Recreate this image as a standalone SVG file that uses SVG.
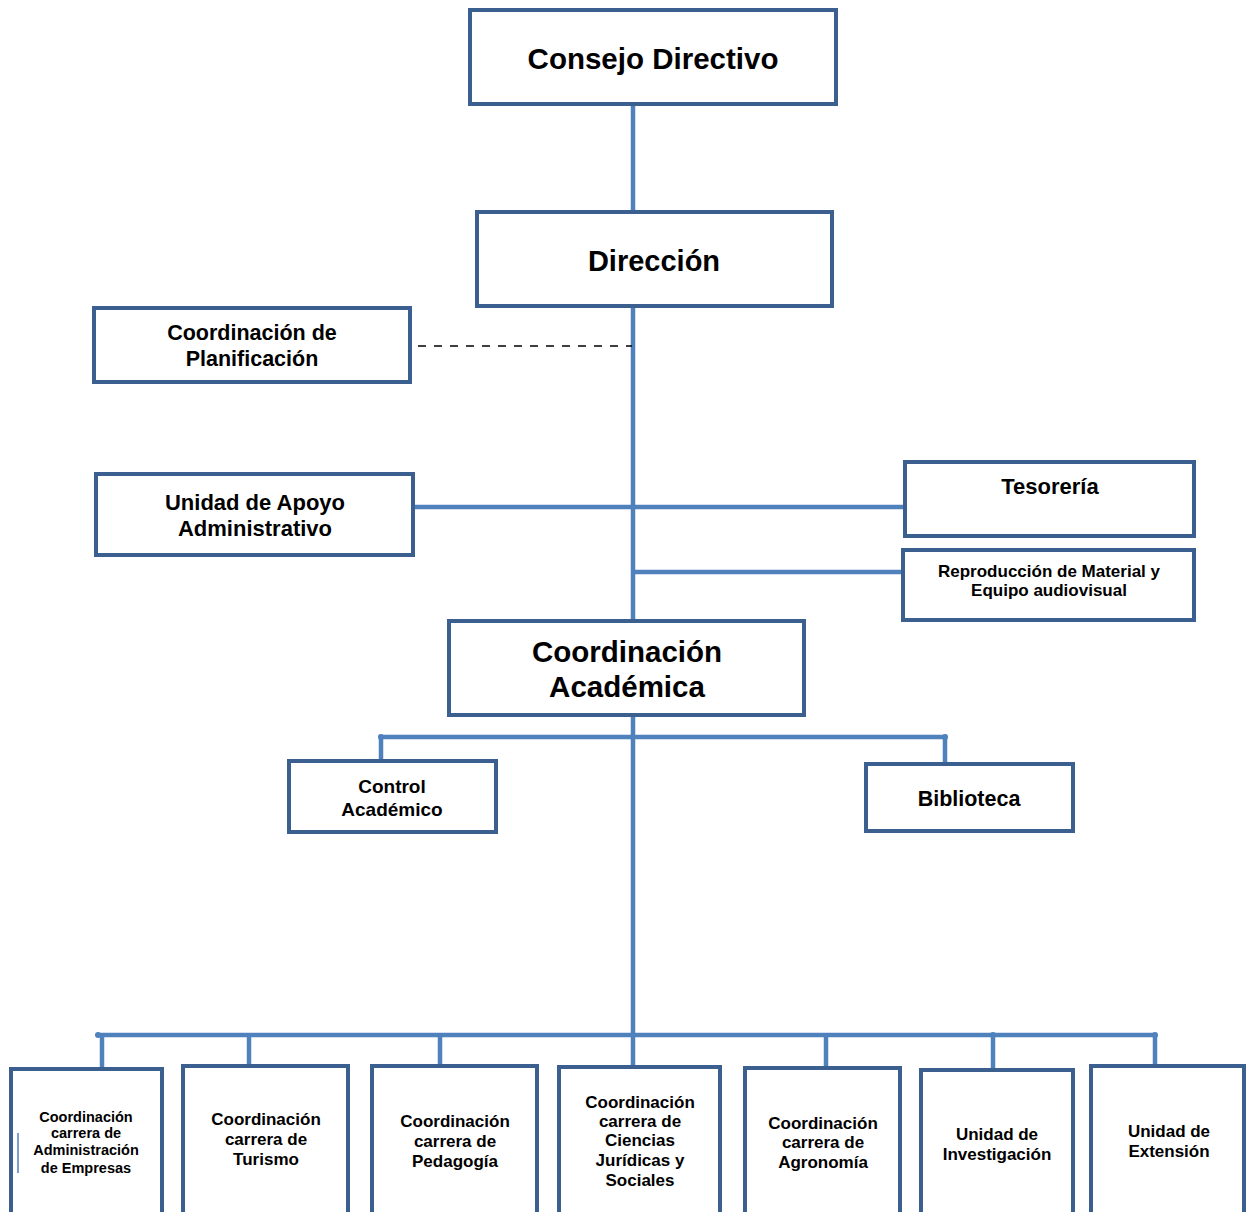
<svg xmlns="http://www.w3.org/2000/svg" width="1246" height="1212" viewBox="0 0 1246 1212">
<style>
.box{fill:#fff;stroke:#3B5F8F;stroke-width:4}
.ln{stroke:#4F81BD;stroke-width:4.5;fill:none;stroke-linecap:butt}
.dot{fill:#4F81BD}
text{font-family:"Liberation Sans",Arial,sans-serif;font-weight:bold;fill:#000;text-anchor:middle}
.t30{font-size:29.5px}.t29{font-size:29px}.t22{font-size:22px}.t215{font-size:21.5px}.t19{font-size:19px}.t16{font-size:17px}.t17{font-size:17px}.t14{font-size:14.5px}
</style>
<rect width="1246" height="1212" fill="#fff"/>
<g id="connectors">
<line class="ln" x1="633" y1="104" x2="633" y2="212"/>
<line class="ln" x1="633" y1="306" x2="633" y2="621"/>
<line x1="418" y1="346" x2="632" y2="346" stroke="#000" stroke-width="1.5" stroke-dasharray="8,8"/>
<line class="ln" x1="413" y1="507" x2="905" y2="507"/>
<line class="ln" x1="633" y1="572" x2="903" y2="572"/>
<line class="ln" x1="633" y1="715" x2="633" y2="1067"/>
<polyline class="ln" points="381,761 381,737 945,737 945,764"/>
<line class="ln" x1="98" y1="1035" x2="1155" y2="1035"/>
<line class="ln" x1="102" y1="1035" x2="102" y2="1068"/>
<line class="ln" x1="249" y1="1035" x2="249" y2="1066"/>
<line class="ln" x1="440" y1="1035" x2="440" y2="1066"/>
<line class="ln" x1="826" y1="1035" x2="826" y2="1068"/>
<line class="ln" x1="993" y1="1035" x2="993" y2="1070"/>
<line class="ln" x1="1155" y1="1035" x2="1155" y2="1066"/>
<circle class="dot" cx="381" cy="737" r="3"/>
<circle class="dot" cx="945" cy="737" r="3"/>
<circle class="dot" cx="98" cy="1035" r="3"/>
<circle class="dot" cx="1155" cy="1035" r="3"/>
<circle class="dot" cx="993" cy="1035" r="3"/>
</g>
<g id="consejo"><rect class="box" x="470" y="10" width="366" height="94"/><text class="t30" x="653" y="69">Consejo Directivo</text></g>
<g id="direccion"><rect class="box" x="477" y="212" width="355" height="94"/><text class="t29" x="654" y="271">Dirección</text></g>
<g id="planificacion"><rect class="box" x="94" y="308" width="316" height="74"/><text class="t215" x="252" y="340">Coordinación de</text><text class="t215" x="252" y="366">Planificación</text></g>
<g id="apoyo"><rect class="box" x="96" y="474" width="317" height="81"/><text class="t22" x="255" y="510">Unidad de Apoyo</text><text class="t22" x="255" y="536">Administrativo</text></g>
<g id="tesoreria"><rect class="box" x="905" y="462" width="289" height="74"/><text class="t22" x="1050" y="494">Tesorería</text></g>
<g id="reproduccion"><rect class="box" x="903" y="550" width="291" height="70"/><text class="t16" x="1049" y="577">Reproducción de Material y</text><text class="t16" x="1049" y="596">Equipo audiovisual</text></g>
<g id="academica"><rect class="box" x="449" y="621" width="355" height="94"/><text class="t30" x="627" y="662">Coordinación</text><text class="t30" x="627" y="697">Académica</text></g>
<g id="control"><rect class="box" x="289" y="761" width="207" height="71"/><text class="t19" x="392" y="793">Control</text><text class="t19" x="392" y="816">Académico</text></g>
<g id="biblioteca"><rect class="box" x="866" y="764" width="207" height="67"/><text class="t215" x="969" y="806">Biblioteca</text></g>
<g id="administracion"><rect class="box" x="11" y="1069" width="151" height="150"/><line x1="18" y1="1133" x2="18" y2="1173" stroke="#4F81BD" stroke-width="1.5"/><text class="t14" x="86" y="1122">Coordinación</text><text class="t14" x="86" y="1138">carrera de</text><text class="t14" x="86" y="1155">Administración</text><text class="t14" x="86" y="1173">de Empresas</text></g>
<g id="turismo"><rect class="box" x="183" y="1066" width="165" height="153"/><text class="t17" x="266" y="1125">Coordinación</text><text class="t17" x="266" y="1145">carrera de</text><text class="t17" x="266" y="1165">Turismo</text></g>
<g id="pedagogia"><rect class="box" x="372" y="1066" width="165" height="153"/><text class="t17" x="455" y="1127">Coordinación</text><text class="t17" x="455" y="1147">carrera  de</text><text class="t17" x="455" y="1167">Pedagogía</text></g>
<g id="juridicas"><rect class="box" x="559" y="1067" width="161" height="152"/><text class="t17" x="640" y="1108">Coordinación</text><text class="t17" x="640" y="1127">carrera  de</text><text class="t17" x="640" y="1146">Ciencias</text><text class="t17" x="640" y="1166">Jurídicas y</text><text class="t17" x="640" y="1186">Sociales</text></g>
<g id="agronomia"><rect class="box" x="745" y="1068" width="155" height="151"/><text class="t17" x="823" y="1129">Coordinación</text><text class="t17" x="823" y="1148">carrera de</text><text class="t17" x="823" y="1168">Agronomía</text></g>
<g id="investigacion"><rect class="box" x="921" y="1070" width="152" height="149"/><text class="t17" x="997" y="1140">Unidad de</text><text class="t17" x="997" y="1160">Investigación</text></g>
<g id="extension"><rect class="box" x="1091" y="1066" width="153" height="153"/><text class="t17" x="1169" y="1137">Unidad de</text><text class="t17" x="1169" y="1157">Extensión</text></g>
</svg>
